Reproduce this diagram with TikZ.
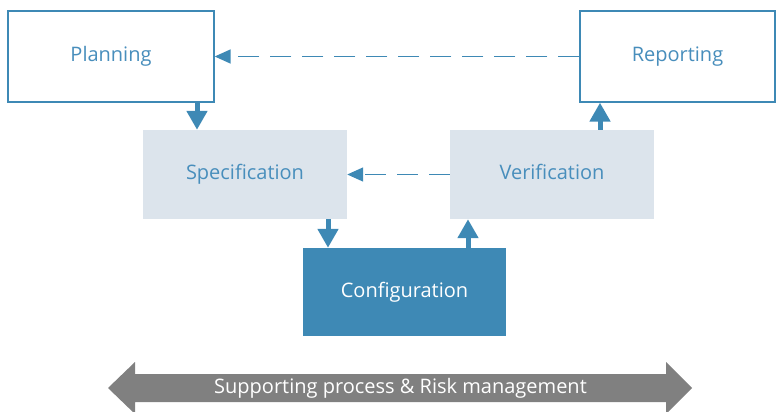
\documentclass[tikz,border=0pt]{standalone}
\usepackage{fontspec}
\setmainfont{Open Sans}
\usetikzlibrary{arrows.meta}
\definecolor{procblue}{RGB}{62,137,181}
\definecolor{labelblue}{RGB}{72,142,188}
\definecolor{paleblue}{RGB}{220,228,236}
\definecolor{bandgray}{RGB}{128,128,128}
\tikzset{
  x=1pt, y=-1pt,
  every node/.style={font=\fontsize{20}{22}\selectfont, inner sep=0pt,
                     text height=1em, text depth=0pt},
  outlinebox/.style={draw=procblue, line width=1.3pt, fill=white, text=labelblue},
  palebox/.style={fill=paleblue, text=labelblue},
  solidbox/.style={fill=procblue, text=white},
  flow/.style={draw=procblue, line width=5pt, -{Triangle[length=19pt,width=20pt]}},
  feedback/.style={draw=procblue, line width=1.5pt, dash pattern=on 21pt off 11pt,
                   -{Triangle[length=16pt,width=14pt]}},
}
\begin{document}
\begin{tikzpicture}
\useasboundingbox (0,0) rectangle (776,412);

% process boxes
\node[outlinebox, minimum width=206pt, minimum height=91pt] (plan) at (111,56.5) {Planning};
\node[outlinebox, minimum width=195pt, minimum height=91pt] (report) at (677.5,56.5) {Reporting};
\node[palebox, minimum width=204pt, minimum height=89pt] (spec) at (245,174.5) {Specification};
\node[palebox, minimum width=204pt, minimum height=89pt] (verif) at (552,174.5) {Verification};
\node[solidbox, minimum width=203pt, minimum height=88pt] (config) at (404.5,292) {Configuration};

% main flow
\draw[flow] ([xshift=86pt]plan.south) -- ([xshift=-48pt]spec.north);
\draw[flow] ([xshift=83pt]spec.south) -- ([xshift=-76.5pt]config.north);
\draw[flow] ([xshift=63.5pt]config.north) -- ([xshift=-84pt]verif.south);
\draw[flow] ([xshift=48pt]verif.north) -- ([xshift=-77.5pt]report.south);

% feedback loops
\draw[feedback] (report.west) -- (plan.east);
\draw[feedback] (verif.west) -- (spec.east);

% supporting band
\fill[bandgray] (108,388) -- (135,362) -- (135,374) -- (666,374) -- (666,362)
  -- (692,388) -- (666,414) -- (666,402) -- (135,402) -- (135,414) -- cycle;
\node[text=white] (band) at (400.5,388) {Supporting process \& Risk management};
\end{tikzpicture}
\end{document}
